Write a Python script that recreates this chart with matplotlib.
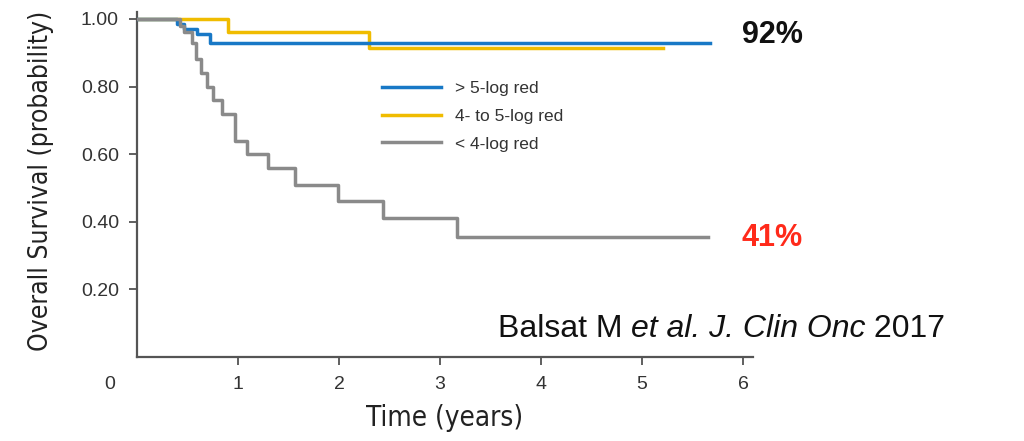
import matplotlib
matplotlib.use("Agg")
import matplotlib.pyplot as plt
from matplotlib import font_manager

# Kaplan-Meier steps (time in years, survival probability)
blue_t = [0, 0.40, 0.47, 0.59, 0.72, 5.67]
blue_s = [1.0, 0.985, 0.97, 0.955, 0.93, 0.93]
yellow_t = [0, 0.90, 2.30, 5.21]
yellow_s = [1.0, 0.96, 0.913, 0.913]
gray_t = [0, 0.43, 0.47, 0.54, 0.58, 0.63, 0.69, 0.75, 0.84, 0.97, 1.09, 1.30, 1.56, 1.99, 2.44, 3.17, 5.65]
gray_s = [1.0, 0.98, 0.96, 0.93, 0.88, 0.84, 0.80, 0.76, 0.72, 0.64, 0.60, 0.56, 0.51, 0.46, 0.41, 0.354, 0.354]

labels = ["> 5-log red", "4- to 5-log red", "< 4-log red"]
x_ticks = [1, 2, 3, 4, 5, 6]
y_ticks = [0.20, 0.40, 0.60, 0.80, 1.00]
y_tick_labels = ["0.20", "0.40", "0.60", "0.80", "1.00"]

plt.rcParams["font.family"] = ["Liberation Sans", "DejaVu Sans"]

# look for a condensed / narrow face for the axis titles
cond_fp = None
for f in font_manager.fontManager.ttflist:
    nm = f.name.lower() + " " + f.fname.lower()
    if ("condensed" in nm or "narrow" in nm) and f.style == "normal" and f.weight in (400, "normal", "regular"):
        if "bold" in f.fname.lower() or "italic" in f.fname.lower() or "oblique" in f.fname.lower():
            continue
        cond_fp = font_manager.FontProperties(fname=f.fname)
        break

fig = plt.figure(figsize=(10.24, 4.41), dpi=100)
ax = fig.add_axes([0.1338, 0.1905, 0.6016, 0.782])

ax.step(blue_t, blue_s, where="post", color="#1878c6", lw=2.5, label=labels[0], zorder=3)
ax.step(yellow_t, yellow_s, where="post", color="#f0bc00", lw=2.5, label=labels[1], zorder=2)
ax.step(gray_t, gray_s, where="post", color="#8a8a8a", lw=2.5, label=labels[2], zorder=4)

ax.set_xlim(0, 6.1)
ax.set_ylim(0, 1.02)
ax.set_xticks(x_ticks)
ax.set_yticks(y_ticks)
ax.set_yticklabels(y_tick_labels)
ax.tick_params(axis="both", direction="out", length=6, width=1.2, color="#444444",
               labelsize=14, labelcolor="#333333")
ax.tick_params(axis="y", pad=7)
ax.tick_params(axis="x", pad=8)

for s in ["top", "right"]:
    ax.spines[s].set_visible(False)
for s in ["left", "bottom"]:
    ax.spines[s].set_color("#555555")
    ax.spines[s].set_linewidth(1.6)

if cond_fp is not None:
    yl = ax.set_ylabel("Overall Survival (probability)", fontproperties=cond_fp, color="#222222")
    xl = ax.set_xlabel("Time (years)", fontproperties=cond_fp, color="#222222")
    yl.set_fontsize(19)
    xl.set_fontsize(20)
else:
    yl = ax.set_ylabel("Overall Survival (probability)", fontsize=16, color="#222222")
    xl = ax.set_xlabel("Time (years)", fontsize=19, color="#222222")
ax.yaxis.set_label_coords(-0.135, 0.51)
ax.xaxis.set_label_coords(0.5, -0.135)

ax.text(-0.27, -0.08, "0", fontsize=14, color="#333333", ha="center", va="center", clip_on=False)

leg = ax.legend(loc="upper left", bbox_to_anchor=(0.398, 0.80), frameon=False, fontsize=12.5,
                handlelength=3.4, labelspacing=0.72, borderpad=0, borderaxespad=0, handletextpad=0.8)
for t in leg.get_texts():
    t.set_color("#333333")

ax.text(5.99, 0.953, "92%", fontsize=22, fontweight="bold", color="#111111", va="center", clip_on=False)
ax.text(5.99, 0.352, "41%", fontsize=22, fontweight="bold", color="#ff2a1a", va="center", clip_on=False)

# citation, pieced together so the journal part can be italic
c1 = ax.text(3.57, 0.059, "Balsat M ", fontsize=23, color="#111111", va="baseline", clip_on=False)
c2 = ax.annotate("et al. J. Clin Onc", xy=(1, 0), xycoords=c1, fontsize=23, style="italic",
                 color="#111111", va="bottom", annotation_clip=False)
c3 = ax.annotate(" 2017", xy=(1, 0), xycoords=c2, fontsize=23, color="#111111", va="bottom",
                 annotation_clip=False)

fig.savefig("out.png", dpi=100)
